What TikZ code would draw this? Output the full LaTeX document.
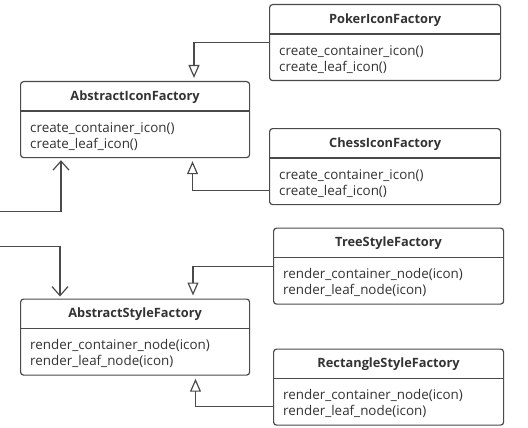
\documentclass[tikz,border=0pt]{standalone}
\usepackage{fontspec}
\setmainfont{Open Sans}
\usetikzlibrary{arrows.meta, positioning}
\definecolor{umlline}{HTML}{4A4A4A}
\definecolor{umltext}{HTML}{333333}
\tikzstyle{classbox} = [rectangle, rounded corners=3pt,
minimum height=76pt,
anchor=north west,
draw=umlline, line width=1.2pt]
\tikzstyle{classtitle} = [font=\bfseries\fontsize{12.8}{14}\selectfont,
text=umltext]
\tikzstyle{classbody} = [font=\fontsize{13.4}{16}\selectfont,
text=umltext, align=left, inner sep=0pt,
anchor=north west]
\tikzstyle{divider} = [draw=umlline, line width=1.2pt]
\tikzstyle{inherit} = [draw=umlline, line width=1.2pt,
-{Triangle[open, length=13pt, width=11pt]}, shorten >=3pt]
\tikzstyle{assoc} = [draw=umlline, line width=1.2pt,
-{Straight Barb[length=9pt, width=16pt]}, shorten >=2pt]

\begin{document}
\begin{tikzpicture}[x=1pt, y=-1pt]
		\useasboundingbox [fill=white] (0,0) rectangle (528,428);

		% icon factories
		\node (aif) [classbox, minimum width=229pt] at (20,81) {};
		\node (aiftitle) [classtitle] at ([yshift=-16pt]aif.north) {AbstractIconFactory};
		\draw [divider] ([yshift=-30pt]aif.north west) -- ([yshift=-30pt]aif.north east);
		\node (aifbody) [classbody] at ([xshift=10pt, yshift=-41pt]aif.north west) {create\_container\_icon()\\create\_leaf\_icon()};

		\node (poker) [classbox, minimum width=231pt] at (269,4) {};
		\node (pokertitle) [classtitle] at ([yshift=-16pt]poker.north) {PokerIconFactory};
		\draw [divider] ([yshift=-30pt]poker.north west) -- ([yshift=-30pt]poker.north east);
		\node (pokerbody) [classbody] at ([xshift=10pt, yshift=-41pt]poker.north west) {create\_container\_icon()\\create\_leaf\_icon()};

		\node (chess) [classbox, minimum width=231pt] at (269,128) {};
		\node (chesstitle) [classtitle] at ([yshift=-16pt]chess.north) {ChessIconFactory};
		\draw [divider] ([yshift=-30pt]chess.north west) -- ([yshift=-30pt]chess.north east);
		\node (chessbody) [classbody] at ([xshift=10pt, yshift=-41pt]chess.north west) {create\_container\_icon()\\create\_leaf\_icon()};

		% style factories
		\node (asf) [classbox, minimum width=229pt] at (20,298.5) {};
		\node (asftitle) [classtitle] at ([yshift=-16pt]asf.north) {AbstractStyleFactory};
		\draw [divider] ([yshift=-30pt]asf.north west) -- ([yshift=-30pt]asf.north east);
		\node (asfbody) [classbody] at ([xshift=10pt, yshift=-41pt]asf.north west) {render\_container\_node(icon)\\render\_leaf\_node(icon)};

		\node (tree) [classbox, minimum width=230pt] at (273,227.5) {};
		\node (treetitle) [classtitle] at ([yshift=-16pt]tree.north) {TreeStyleFactory};
		\draw [divider] ([yshift=-30pt]tree.north west) -- ([yshift=-30pt]tree.north east);
		\node (treebody) [classbody] at ([xshift=10pt, yshift=-41pt]tree.north west) {render\_container\_node(icon)\\render\_leaf\_node(icon)};

		\node (rect) [classbox, minimum width=230pt] at (273,348.5) {};
		\node (recttitle) [classtitle] at ([yshift=-16pt]rect.north) {RectangleStyleFactory};
		\draw [divider] ([yshift=-30pt]rect.north west) -- ([yshift=-30pt]rect.north east);
		\node (rectbody) [classbody] at ([xshift=10pt, yshift=-41pt]rect.north west) {render\_container\_node(icon)\\render\_leaf\_node(icon)};

		\coordinate (iconclient) at (0,211.5);
		\coordinate (styleclient) at (0,246.5);

		\draw [inherit] (poker.west) -| ([xshift=174pt]aif.north west);
		\draw [inherit] ([yshift=15pt]chess.south west) -| ([xshift=172.5pt]aif.south west);
		\draw [inherit] (tree.west) -| ([xshift=173pt]asf.north west);
		\draw [inherit] ([yshift=19pt]rect.south west) -| ([xshift=175.5pt]asf.south west);
		\draw [assoc] (iconclient) -| ([xshift=41pt]aif.south west);
		\draw [assoc] (styleclient) -| ([xshift=40pt]asf.north west);
	\end{tikzpicture}
\end{document}
